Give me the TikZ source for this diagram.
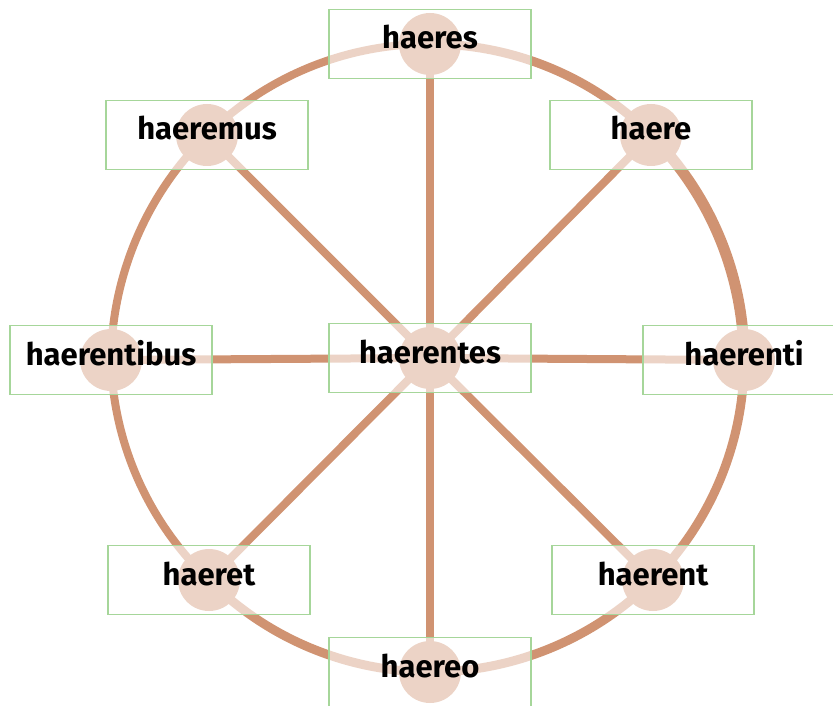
\documentclass[tikz,border=0pt]{standalone}
\usepackage{fontspec}
\setmainfont{Fira Sans}
\usetikzlibrary{backgrounds}
\definecolor{spoke}{RGB}{208,147,114}
\definecolor{boxgreen}{RGB}{166,214,154}
\begin{document}
\begin{tikzpicture}[x=1pt,y=-1pt,
  word/.style={draw=boxgreen, line width=1.2pt, fill=white, fill opacity=0.6, text opacity=1,
    minimum width=202pt, minimum height=69pt, inner sep=0pt, text height=23pt, text depth=13pt,
    font=\fontsize{31}{34}\selectfont\bfseries},
  spk/.style={draw=spoke, line width=8pt},
  ring/.style={draw=spoke, line width=#1, bend left=22.5, looseness=0.885},
  ring/.default=9pt,
  dot/.style={fill=spoke}]
\useasboundingbox (0,0) rectangle (833,706);
\node[word] (c)  at (430,358) {haerentes};
\node[word] (n)  at (430,44)  {haeres};
\node[word] (ne) at (651,135) {haere};
\node[word] (e)  at (744,360) {haerenti};
\node[word] (se) at (653,580) {haerent};
\node[word] (s)  at (430,672) {haereo};
\node[word] (sw) at (209,580) {haeret};
\node[word] (w)  at (111,360) {haerentibus};
\node[word] (nw) at (207,135) {haeremus};
\begin{pgfonlayer}{background}
  \foreach \t in {n,ne,e,se,s,sw,w,nw} {\draw[spk] (c.center) -- (\t.center);}
  \draw[ring] (n.center) to (ne.center);
  \draw[ring=11pt] (ne.center) to (e.center);
  \draw[ring] (e.center) to (se.center);
  \draw[ring] (se.center) to (s.center);
  \draw[ring] (s.center) to (sw.center);
  \draw[ring=8pt] (sw.center) to (w.center);
  \draw[ring=8pt] (w.center) to (nw.center);
  \draw[ring=8pt] (nw.center) to (n.center);
  \foreach \t in {c,n,ne,e,se,s,sw,w,nw} {\fill[dot] (\t.center) circle (31);}
\end{pgfonlayer}
\end{tikzpicture}
\end{document}
